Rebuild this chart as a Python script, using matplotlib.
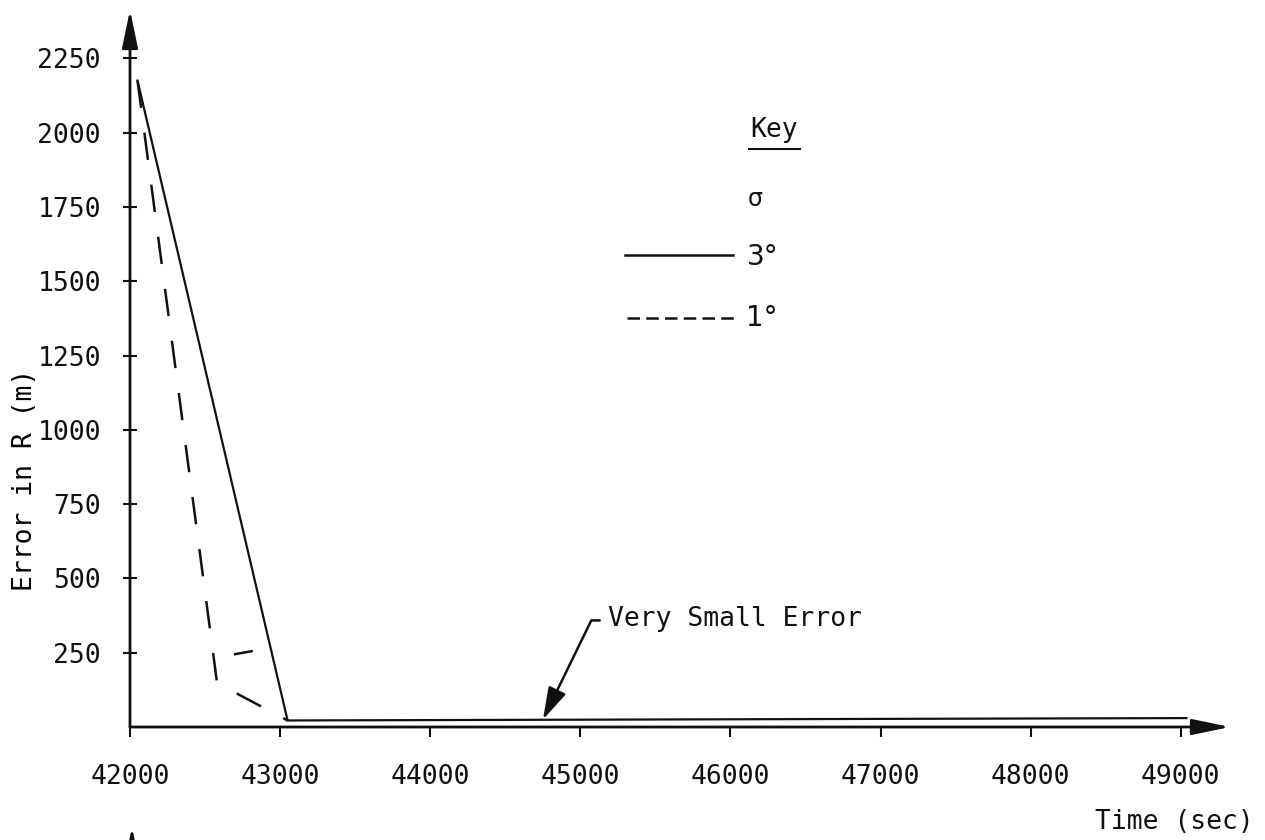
import matplotlib
matplotlib.use("Agg")
import matplotlib.pyplot as plt
from matplotlib.lines import Line2D
from matplotlib.patches import FancyArrowPatch

# ── data ─────────────────────────────────────────────────────────────
time_3deg = [42050, 43050, 49038]
err_3deg = [2175, 22, 30]

time_1deg = [42050, 42580, 43050]
err_1deg = [2175, 148, 22]

# short stray dash drawn near the 250 m level
time_1deg_tail = [42700, 42810]
err_1deg_tail = [245, 255]

y_ticks = [250, 500, 750, 1000, 1250, 1500, 1750, 2000, 2250]
x_ticks = [42000, 43000, 44000, 45000, 46000, 47000, 48000, 49000]

INK = "#111111"
FONT = "DejaVu Sans Mono"

plt.rcParams.update({
    "font.family": FONT,
    "text.color": INK,
    "xtick.color": INK,
    "ytick.color": INK,
})

# pixel layout: origin at (130, 727), 150.1 px per 1000 s, 74.3 px per 250 m
fig = plt.figure(figsize=(12.65, 8.4), dpi=100, facecolor="white")
ax = fig.add_axes([130 / 1265, 1 - 727 / 840, 1100 / 1265, 717 / 840])
ax.set_xlim(42000, 42000 + 1100 / 150.1 * 1000)
ax.set_ylim(0, 717 / 74.3 * 250)
for s in ax.spines.values():
    s.set_visible(False)

# axes drawn as arrows
arrow_kw = dict(arrowstyle="-|>,head_length=1.15,head_width=0.24",
                color=INK, lw=2, shrinkA=0, shrinkB=0, mutation_scale=20)
ax.annotate("", xy=(1, 0), xytext=(0, 0), xycoords="axes fraction",
            arrowprops=arrow_kw)
ax.annotate("", xy=(0, 1), xytext=(0, 0), xycoords="axes fraction",
            arrowprops=arrow_kw)

# curves
ax.plot(time_3deg, err_3deg, color=INK, lw=1.6, solid_joinstyle="miter")
ax.plot(time_1deg, err_1deg, color=INK, lw=1.8, dashes=(11, 10))
ax.plot(time_1deg_tail, err_1deg_tail, color=INK, lw=1.8)

# ticks
ax.set_yticks(y_ticks)
ax.set_yticklabels([str(v) for v in y_ticks])
ax.set_xticks(x_ticks)
ax.set_xticklabels([str(v) for v in x_ticks])
ax.tick_params(axis="y", direction="inout", length=10, width=1.5,
               labelsize=19, pad=16)
ax.tick_params(axis="x", direction="out", length=7, width=1.5,
               labelsize=19, pad=20)

ax.set_ylabel("Error in R (m)", fontsize=19)
ax.yaxis.set_label_coords(-0.084, 0.344)

fig.text(1254 / 1265, 1 - 822 / 840, "Time (sec)", fontsize=19,
         ha="right", va="center")

# key
ax.text(0.5636, 0.833, "Key", transform=ax.transAxes, fontsize=19,
        ha="left", va="center")
ax.add_line(Line2D([0.5627, 0.6091], [0.806, 0.806], transform=ax.transAxes,
                   color=INK, lw=1.5))
ax.text(0.562, 0.736, "σ", transform=ax.transAxes, fontsize=17,
        ha="left", va="center", family="DejaVu Sans")
ax.add_line(Line2D([0.450, 0.548], [0.658, 0.658], transform=ax.transAxes,
                   color=INK, lw=1.8))
ax.text(0.561, 0.655, "3°", transform=ax.transAxes, fontsize=20,
        ha="left", va="center", family="DejaVu Sans")
ax.add_line(Line2D([0.452, 0.552], [0.570, 0.570], transform=ax.transAxes,
                   color=INK, lw=1.8, dashes=(5, 2.5)))
ax.text(0.560, 0.570, "1°", transform=ax.transAxes, fontsize=20,
        ha="left", va="center", family="DejaVu Sans")

# callout
ax.annotate("Very Small Error", xy=(44751, 25), xytext=(45185, 363),
            fontsize=19, ha="left", va="center",
            arrowprops=dict(arrowstyle="-|>,head_length=1.1,head_width=0.32",
                            color=INK, lw=1.8, shrinkA=4, shrinkB=0,
                            mutation_scale=18, relpos=(0, 0.45),
                            connectionstyle="angle,angleA=180,angleB=64,rad=0"))

# tip of the next axis below
fig.add_artist(FancyArrowPatch(
    (132 / 1265, -0.03), (132 / 1265, 1 - 827 / 840),
    transform=fig.transFigure,
    arrowstyle="-|>,head_length=1.15,head_width=0.24",
    color=INK, lw=2, mutation_scale=20, shrinkA=0, shrinkB=0))

fig.savefig("out.png", dpi=100, facecolor="white")
